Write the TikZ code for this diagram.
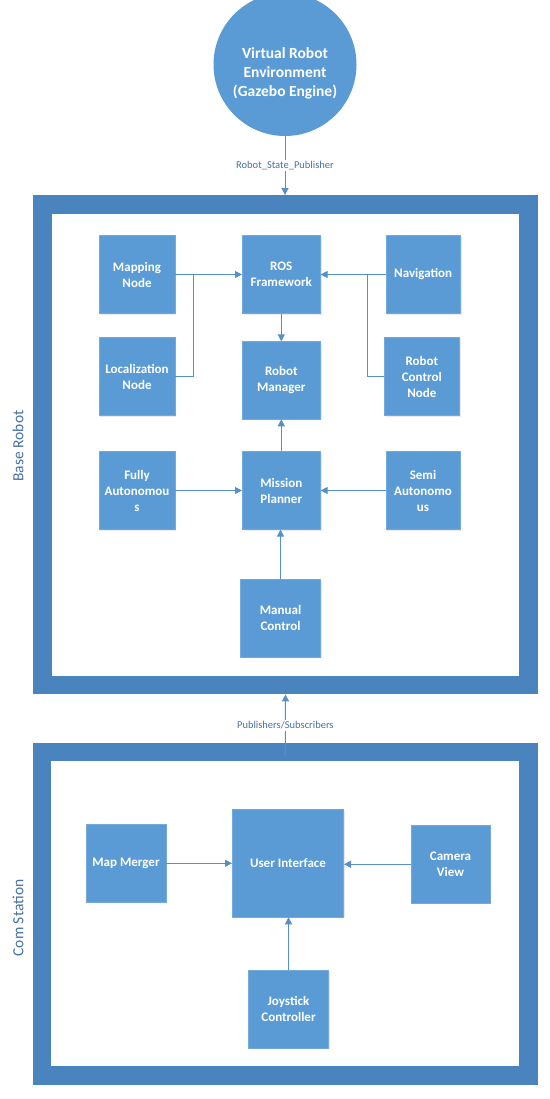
\documentclass[tikz,border=0pt]{standalone}
\usepackage{fontspec}
\setmainfont{Carlito}
\usetikzlibrary{arrows.meta,shadows}
\definecolor{boxblue}{HTML}{5B9BD5}
\definecolor{frameblue}{HTML}{4A84BF}
\definecolor{lineblue}{HTML}{5590CC}
\definecolor{labelblue}{HTML}{4472A8}
\begin{document}
\begin{tikzpicture}[x=1pt,y=-1pt,
  blk/.style={rectangle, fill=boxblue, draw=boxblue!85!white, line width=0.6pt, text=white,
    font=\bfseries\fontsize{13}{16}\selectfont, align=center, inner sep=2pt,
    drop shadow={shadow xshift=1.2pt,shadow yshift=-1.2pt,opacity=0.18}},
  frm/.style={rectangle, draw=frameblue, line width=18.5pt, fill=white, outer sep=9.25pt, inner sep=0pt,
    drop shadow={shadow xshift=0.8pt,shadow yshift=-1.5pt,opacity=0.12}},
  conn/.style={draw=lineblue, line width=1pt, -{Triangle[length=7pt,width=7pt]}},
  plain/.style={draw=lineblue, line width=1pt},
  lbl/.style={fill=white, text=labelblue, font=\fontsize{10.5}{12}\selectfont, inner sep=1.5pt},
  side/.style={text=labelblue, font=\fontsize{15.5}{18}\selectfont, rotate=90, inner sep=0pt}]
\useasboundingbox (0,0) rectangle (549,1099);
\fill[white] (0,0) rectangle (549,1099);

% frames
\node[frm, minimum width=485.9pt, minimum height=480.8pt] (base) at (285.5,444.7) {};
\node[frm, minimum width=486.5pt, minimum height=323.5pt] (com) at (285.2,913.5) {};
\node[side] (brl) at (18,446) {Base Robot};
\node[side] (csl) at (18,918) {Com Station};

% environment
\node[circle, fill=boxblue, minimum size=143pt, inner sep=0pt] (env) at (285,64.5) {};
\node[text=white, font=\bfseries\fontsize{15.5}{18.7}\selectfont, align=center] (envtxt) at (285,73.5)
  {Virtual Robot\\Environment\\(Gazebo Engine)};

% base robot blocks
\node[blk, minimum width=76pt, minimum height=77.6pt] (map) at (137,274.5) {Mapping\\Node};
\node[blk, minimum width=78pt, minimum height=77.6pt] (ros) at (281.3,274.5) {ROS\\Framework};
\node[blk, minimum width=74.3pt, minimum height=77.6pt] (nav) at (423.2,274.5) {Navigation};
\node[blk, minimum width=76pt, minimum height=78pt] (loc) at (137,376.7) {Localization\\Node};
\node[blk, minimum width=78pt, minimum height=77.3pt] (rm) at (281.3,380.3) {Robot\\Manager};
\node[blk, minimum width=75pt, minimum height=78pt] (rc) at (421.8,376.7) {Robot\\Control\\Node};
\node[blk, minimum width=76pt, minimum height=77.6pt] (fa) at (137,490.5) {Fully\\Autonomou\\s};
\node[blk, minimum width=78pt, minimum height=77.6pt] (mp) at (281.3,490.5) {Mission\\Planner};
\node[blk, minimum width=74pt, minimum height=77.6pt] (sa) at (423,490.5) {Semi\\Autonomo\\us};
\node[blk, minimum width=79.6pt, minimum height=77.7pt] (mc) at (280.5,618.2) {Manual\\Control};

% com station blocks
\node[blk, minimum width=80pt, minimum height=77.3pt] (mm) at (126,863.3) {Map Merger};
\node[blk, minimum width=111.4pt, minimum height=107.3pt] (ui) at (288,863.3) {User Interface};
\node[blk, minimum width=79pt, minimum height=77.3pt] (cam) at (450.5,864.3) {Camera\\View};
\node[blk, minimum width=79.6pt, minimum height=77.7pt] (joy) at (288.5,1009.2) {Joystick\\Controller};

\coordinate (lj) at (193.7,0);
\coordinate (rj) at (367.7,0);

% connectors
\draw[conn] (env.south) -- node[lbl] (rsp) {Robot\_State\_Publisher} (env.south |- base.north);
\draw[conn] ([yshift=-14pt]com.north) -- node[lbl] (pubsub) {Publishers/Subscribers} (base.south);

\draw[conn] (map.east) -- (ros.west |- map.east);
\draw[plain] (loc.east) -| (lj |- map.east);
\draw[conn] (nav.west) -- (ros.east |- nav.west);
\draw[plain] (rc.west) -| (rj |- nav.west);
\draw[conn] (ros.south) -- (rm.north);
\draw[conn] (mp.north) -- (rm.south);
\draw[conn] (fa.east) -- (mp.west |- fa.east);
\draw[conn] (sa.west) -- (mp.east |- sa.west);
\draw[conn] (mc.north) -- (mc.north |- mp.south);

\draw[conn] (mm.east) -- (ui.west |- mm.east);
\draw[conn] (cam.west) -- (ui.east |- cam.west);
\draw[conn] (joy.north) -- (joy.north |- ui.south);
\end{tikzpicture}
\end{document}
